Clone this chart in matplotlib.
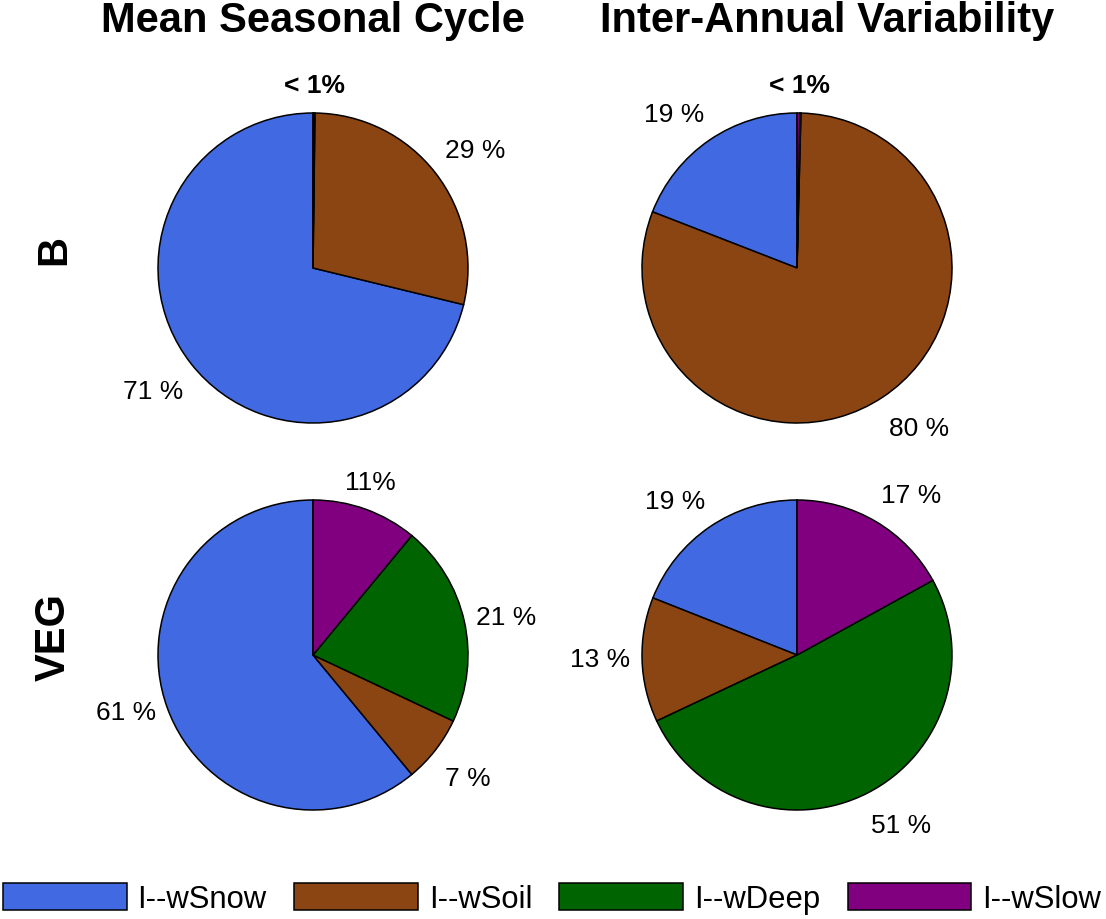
import matplotlib
matplotlib.use("Agg")
import matplotlib.pyplot as plt
import numpy as np

plt.rcParams['font.family'] = ['Liberation Sans', 'DejaVu Sans']

# ---- data ----
components = ["I--wSnow", "I--wSoil", "I--wDeep", "I--wSlow"]
colors = ["#4169E1", "#8B4513", "#006400", "#800080"]
col_titles = ["Mean Seasonal Cycle", "Inter-Annual Variability"]
row_titles = ["B", "VEG"]

b_msc = [71.2, 28.6, 0.1, 0.1]
b_iav = [19.1, 80.5, 0.1, 0.3]
veg_msc = [61.0, 7.0, 21.0, 11.0]
veg_iav = [19.0, 13.0, 51.0, 17.0]

b_msc_labels = ["71 %", "29 %", "", ""]
b_iav_labels = ["19 %", "80 %", "", ""]
veg_msc_labels = ["61 %", "7 %", "21 %", "11%"]
veg_iav_labels = ["19 %", "13 %", "51 %", "17 %"]
small_label = "< 1%"

panels = [[(b_msc, b_msc_labels), (b_iav, b_iav_labels)],
          [(veg_msc, veg_msc_labels), (veg_iav, veg_iav_labels)]]

# ---- layout ----
W, H = 1106, 919
fig = plt.figure(figsize=(W / 100, H / 100), dpi=100)
centers_x = [313, 797]
centers_y = [268, 655]
R = 155
lim = 1.5
lab_r = 1.1
thr = 0.4
fs_lab = 19


def place(ax, ang, text, bold=False):
    cx, cy = np.cos(ang), np.sin(ang)
    x, y = lab_r * cx, lab_r * cy
    if cx > thr:
        ha = "left"
        x -= 3 / R
    elif cx < -thr:
        ha = "right"
        x += 4 / R
    else:
        ha = "center"
    if cy > thr:
        va = "bottom"
    elif cy < -thr:
        va = "top"
        y -= 7 / R
    else:
        va = "center"
    ax.text(x, y, text, ha=ha, va=va, fontsize=fs_lab,
            fontweight="bold" if bold else "normal")


handles = None
for r in range(2):
    for c in range(2):
        vals, labs = panels[r][c]
        cx, cy = centers_x[c], centers_y[r]
        half = R * lim
        ax = fig.add_axes([(cx - half) / W, 1 - (cy + half) / H, 2 * half / W, 2 * half / H])
        wedges, _ = ax.pie(vals, colors=colors, startangle=90, counterclock=True,
                           wedgeprops=dict(edgecolor="black", linewidth=1.1))
        ax.set_xlim(-lim, lim)
        ax.set_ylim(-lim, lim)
        ax.set_aspect("equal")
        ax.axis("off")
        small = []
        for w, lab, v in zip(wedges, labs, vals):
            if v < 1:
                small.append(w)
                continue
            place(ax, np.deg2rad((w.theta1 + w.theta2) / 2), lab)
        if small:
            place(ax, np.deg2rad((small[0].theta1 + small[-1].theta2) / 2), small_label, bold=True)
        if r == 1 and c == 1:
            handles = wedges

# titles
fig.text(313 / W, 1 - 32 / H, col_titles[0], ha="center", va="baseline",
         fontsize=30, fontweight="bold")
fig.text(827 / W, 1 - 32 / H, col_titles[1], ha="center", va="baseline",
         fontsize=30, fontweight="bold")
fig.text(54 / W, 1 - 250 / H, row_titles[0], ha="center", va="center",
         fontsize=30, fontweight="bold", rotation=90)
fig.text(54 / W, 1 - 637 / H, row_titles[1], ha="center", va="center",
         fontsize=30, fontweight="bold", rotation=90)

leg = fig.legend(handles, components, loc="center", bbox_to_anchor=(552 / W, 1 - 899 / H),
                 ncol=4, frameon=False, fontsize=22.3, handlelength=4.0, handleheight=0.95,
                 handletextpad=0.35, columnspacing=0.88, borderaxespad=0, borderpad=0)
for p in leg.get_patches():
    p.set_edgecolor("black")
    p.set_linewidth(1.1)

fig.savefig("out.png", dpi=100, facecolor="white")
